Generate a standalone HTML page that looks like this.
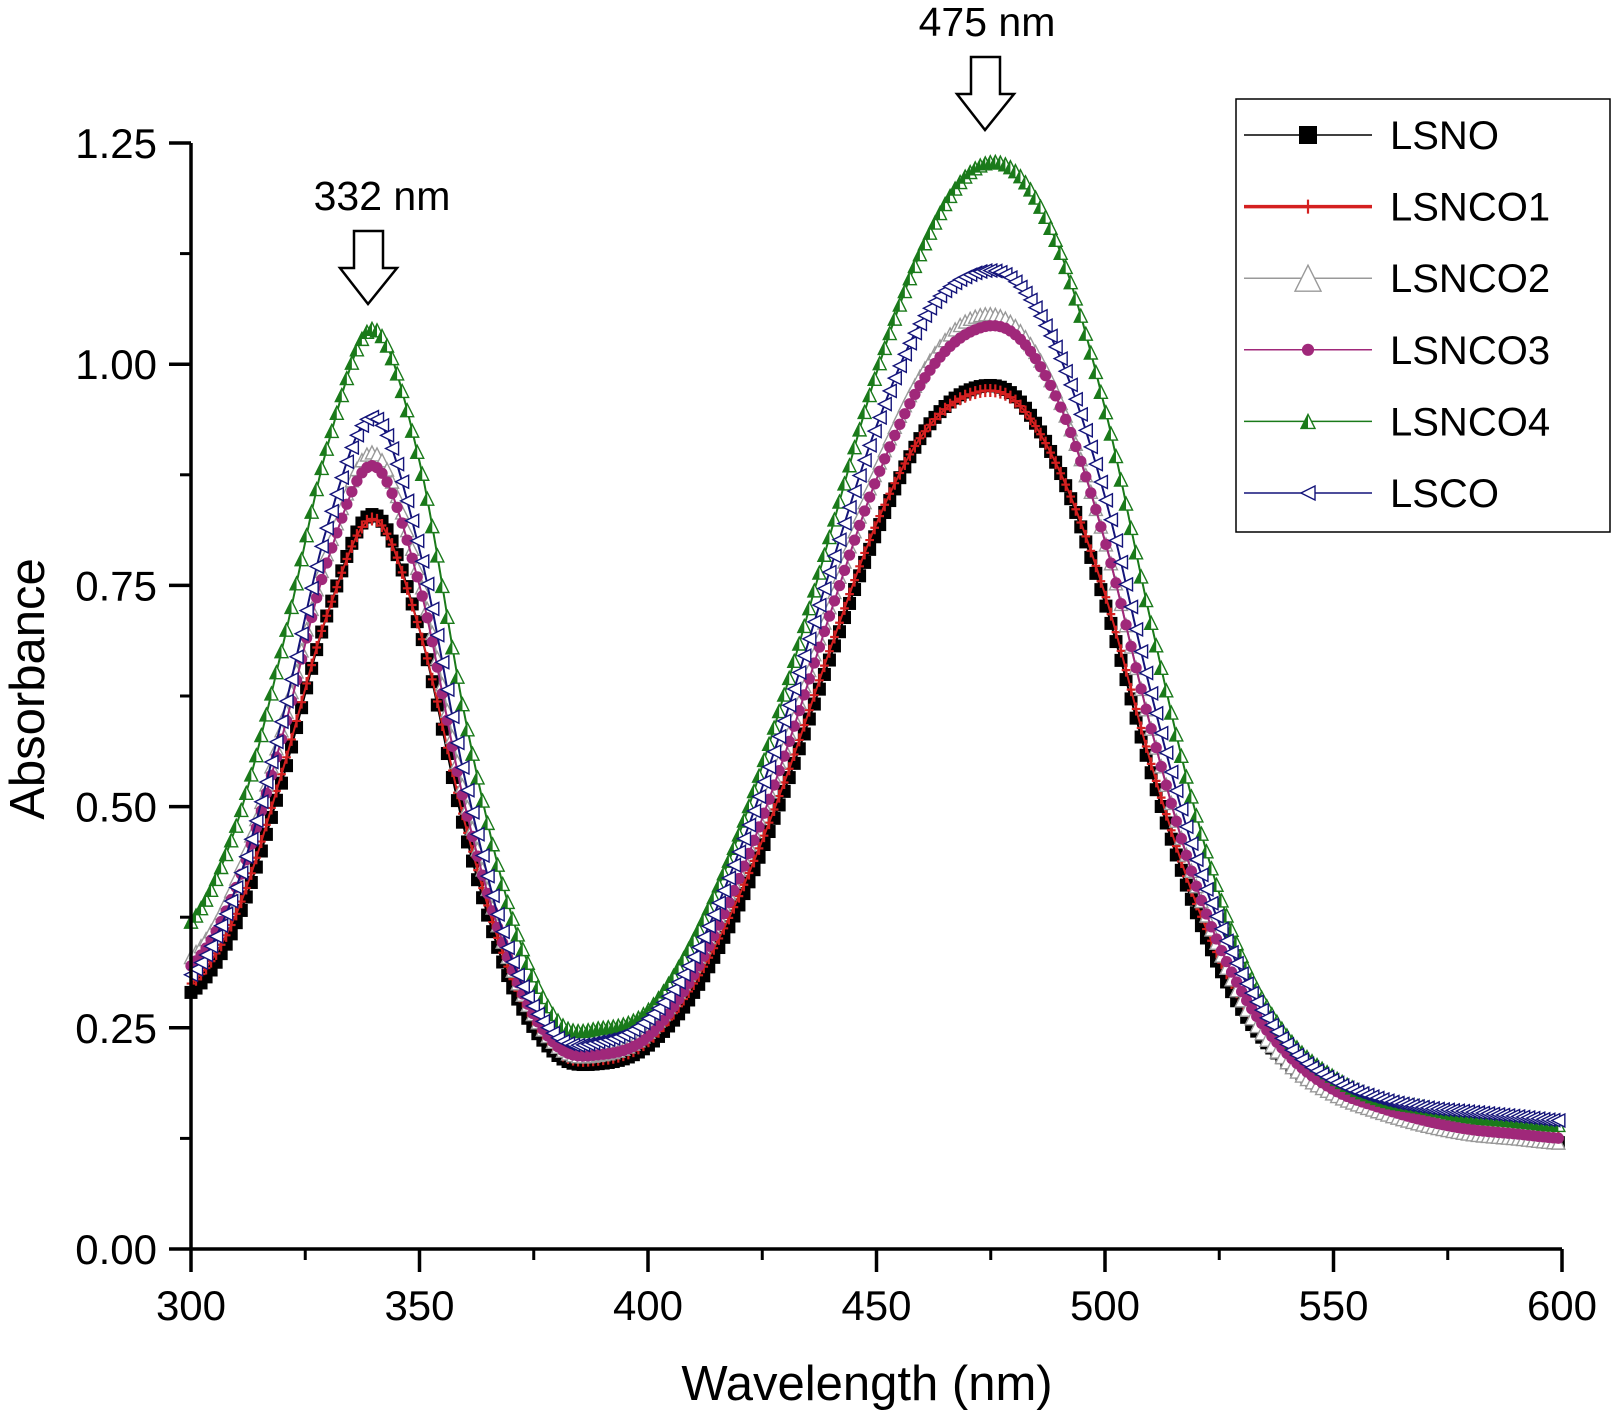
<!DOCTYPE html>
<html><head><meta charset="utf-8"><style>
html,body{margin:0;padding:0;background:#fff;}
svg{display:block;font-family:"Liberation Sans",Arial,sans-serif;}
</style></head><body>
<svg id="chart" width="1612" height="1422" viewBox="0 0 1612 1422" xmlns="http://www.w3.org/2000/svg">
<g id="series-layer"></g>
<g id="axes"></g>
<g>
<text x="382" y="210" font-size="41" text-anchor="middle">332 nm</text>
<path d="M354,231 H383 V268 H397 L368,304 L340,268 H354 Z" fill="#fff" stroke="#000" stroke-width="2.5"/>
</g>
<g>
<text x="987" y="36" font-size="41" text-anchor="middle">475 nm</text>
<path d="M971,57 H1000 V94 H1014 L985,130 L957,94 H971 Z" fill="#fff" stroke="#000" stroke-width="2.5"/>
</g>
<text x="867" y="1400" font-size="49" text-anchor="middle">Wavelength (nm)</text>
<text transform="translate(44,689) rotate(-90)" font-size="49" text-anchor="middle">Absorbance</text>
<g id="legend">
<rect x="1236" y="99" width="374" height="433" fill="#fff" stroke="#000" stroke-width="1.5"/>
</g>
</svg>
<script>
const wavelengths = [300,310,320,330,340,350,360,370,380,390,400,410,420,430,440,450,460,470,480,490,500,510,520,530,540,550,560,570,580,590,600];
const seriesNames = ["LSNO","LSNCO1","LSNCO2","LSNCO3","LSNCO4","LSCO"];
const lsno   = [0.29,0.37,0.53,0.72,0.83,0.70,0.47,0.30,0.22,0.21,0.23,0.29,0.39,0.52,0.67,0.81,0.92,0.97,0.965,0.88,0.73,0.54,0.38,0.27,0.21,0.175,0.155,0.14,0.13,0.125,0.12];
const lsnco1 = [0.30,0.38,0.54,0.72,0.825,0.70,0.48,0.31,0.225,0.215,0.235,0.30,0.40,0.53,0.68,0.82,0.92,0.965,0.96,0.88,0.74,0.55,0.39,0.28,0.215,0.18,0.16,0.145,0.135,0.13,0.125];
const lsnco2 = [0.33,0.42,0.59,0.79,0.90,0.76,0.51,0.32,0.23,0.22,0.245,0.32,0.43,0.57,0.73,0.88,0.99,1.05,1.045,0.96,0.80,0.59,0.41,0.28,0.21,0.175,0.155,0.14,0.13,0.125,0.12];
const lsnco3 = [0.32,0.41,0.58,0.78,0.885,0.75,0.50,0.32,0.23,0.22,0.24,0.31,0.42,0.56,0.72,0.87,0.98,1.035,1.035,0.955,0.80,0.59,0.41,0.29,0.22,0.18,0.16,0.145,0.135,0.13,0.125];
const lsnco4 = [0.37,0.48,0.68,0.91,1.04,0.89,0.60,0.38,0.26,0.25,0.27,0.35,0.47,0.63,0.81,0.99,1.13,1.215,1.22,1.13,0.95,0.71,0.49,0.33,0.24,0.195,0.17,0.16,0.15,0.145,0.14];
const lsco   = [0.31,0.41,0.60,0.82,0.94,0.79,0.53,0.33,0.24,0.235,0.26,0.33,0.45,0.60,0.77,0.93,1.05,1.10,1.095,1.01,0.85,0.63,0.44,0.31,0.23,0.19,0.17,0.16,0.155,0.15,0.145];
const xTicks = [300,350,400,450,500,550,600];
const yTicks = [0,0.25,0.5,0.75,1.0,1.25];
const yTickLabels = ["0.00","0.25","0.50","0.75","1.00","1.25"];

const NS="http://www.w3.org/2000/svg";
const X0=191,X1=1562,Y0=1249,Y1=143;
const xs=v=>X0+(v-300)/300*(X1-X0);
const ys=v=>Y0-(v/1.25)*(Y0-Y1);
function mk(tag,attrs,parent){const e=document.createElementNS(NS,tag);for(const k in attrs)e.setAttribute(k,attrs[k]);parent.appendChild(e);return e;}

const axes=document.getElementById('axes');
let a=mk('path',{d:`M${X0},${Y1} V${Y0} H${X1}`,fill:'none',stroke:'#000','stroke-width':3.5},axes);


yTicks.forEach((t,i)=>{
  const y=ys(t);
  let l=mk('line',{x1:X0-22,x2:X0,y1:y,y2:y,stroke:'#000','stroke-width':3.5},axes);
  
  
  if(i<yTicks.length-1){const ym=ys(t+0.125);
    let m=mk('line',{x1:X0-11,x2:X0,y1:ym,y2:ym,stroke:'#000','stroke-width':3},axes);
    
    }
  let tx=mk('text',{x:157,y:y+15,'font-size':42,'text-anchor':'end'},axes);
  tx.textContent=yTickLabels[i];
  
  
});
xTicks.forEach((t,i)=>{
  const x=xs(t);
  let l=mk('line',{x1:x,x2:x,y1:Y0,y2:Y0+23,stroke:'#000','stroke-width':3.5},axes);
  
  
  if(i<xTicks.length-1){const xm=xs(t+25);
    let m=mk('line',{x1:xm,x2:xm,y1:Y0,y2:Y0+11,stroke:'#000','stroke-width':3},axes);
    
    }
  let tx=mk('text',{x:x,y:1320,'font-size':42,'text-anchor':'middle'},axes);
  tx.textContent=String(t);
  
  
});

function evalCurve(vals,w){
  const step=wavelengths[1]-wavelengths[0];
  let f=(w-wavelengths[0])/step;let i=Math.min(Math.floor(f),vals.length-2);let t=f-i;
  const p0=vals[Math.max(i-1,0)],p1=vals[i],p2=vals[i+1],p3=vals[Math.min(i+2,vals.length-1)];
  return 0.5*((2*p1)+(-p0+p2)*t+(2*p0-5*p1+4*p2-p3)*t*t+(-p0+3*p1-3*p2+p3)*t*t*t);
}
const styles=[
  {c:'#000',m:'square'},{c:'#d42020',m:'plus'},{c:'#999',m:'tri'},
  {c:'#a0287a',m:'circle'},{c:'#1a7a1a',m:'halftri'},{c:'#14147a',m:'ltri'}];
function marker(g,type,c,x,y,s){
  let e;
  if(type==='square') e=mk('rect',{x:x-s/2,y:y-s/2,width:s,height:s,fill:c},g);
  else if(type==='plus') e=mk('path',{d:`M${x},${y-s/2}V${y+s/2}M${x-s/3},${y}H${x+s/3}`,stroke:c,'stroke-width':2.2,fill:'none'},g);
  else if(type==='tri') e=mk('path',{d:`M${x},${y-s/2}L${x+s/2},${y+s/2}L${x-s/2},${y+s/2}Z`,stroke:c,'stroke-width':1.4,fill:'#fff'},g);
  else if(type==='circle') e=mk('circle',{cx:x,cy:y,r:s/2.3,fill:c},g);
  else if(type==='halftri') e=mk('path',{d:`M${x},${y-s/2}L${x+s/2},${y+s/2}L${x-s/2},${y+s/2}Z`,stroke:c,'stroke-width':1.4,fill:'#fff'},g),
    mk('path',{d:`M${x},${y-s/2}L${x},${y+s/2}L${x-s/2},${y+s/2}Z`,fill:c},g);
  else e=mk('path',{d:`M${x-s/2},${y}L${x+s/2},${y-s/2}L${x+s/2},${y+s/2}Z`,stroke:c,'stroke-width':1.4,fill:'#fff'},g);
  return e;
}
const allSeries=[lsno,lsnco1,lsnco2,lsnco3,lsnco4,lsco];
const layer=document.getElementById('series-layer');
allSeries.forEach((vals,si)=>{
  const st=styles[si];
  const g=mk('g',{},layer);
  
  
  let d='';
  for(let w=300;w<=600;w+=1){d+=(w===300?'M':'L')+xs(w).toFixed(1)+','+ys(evalCurve(vals,w)).toFixed(1);}
  const p=mk('path',{d:d,fill:'none',stroke:st.c,'stroke-width':2},g);
  
  
  for(let w=300;w<=600.01;w+=1.1){
    const e=marker(g,st.m,st.c,xs(w),ys(evalCurve(vals,w)),13);
    
    
  }
});
const legend=document.getElementById('legend');
seriesNames.forEach((n,i)=>{
  const y=135+i*71.6, st=styles[i];
  const g=mk('g',{},legend);
  
  
  mk('line',{x1:1244,x2:1372,y1:y,y2:y,stroke:st.c,'stroke-width':i===1?3.5:1.5},g);
  marker(g,st.m,st.c,1308,y,st.m==='square'?18:(st.m==='tri'?26:14));
  const t=mk('text',{x:1390,y:y+14,'font-size':40},g);
  t.textContent=n;
});
</script>
</body></html>
